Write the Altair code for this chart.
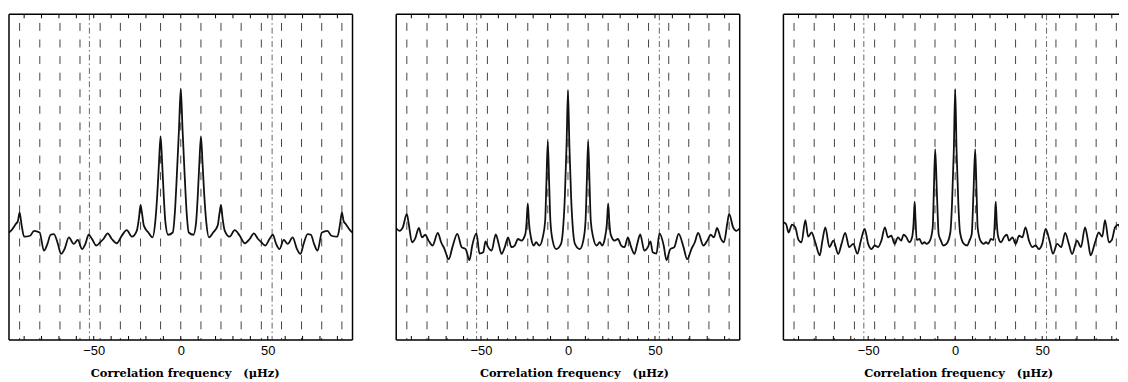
import altair as alt
import pandas as pd

# ---- panel 1 ----
freq_1 = [-98.7, -97.6, -94.8, -93.6, -92.6, -91.5, -90.0, -86.6, -84.3, -81.1, -78.6, -76.6, -74.8, -72.9,
          -70.6, -68.8, -66.8, -64.3, -61.5, -59.2, -56.7, -54.8, -52.9, -51.0, -48.5, -46.3, -44.4, -42.0,
          -39.6, -36.8, -33.9, -31.0, -28.1, -25.3, -24.0, -23.1, -22.3, -21.2, -18.6, -16.2, -14.7, -13.5,
          -12.5, -11.6, -10.7, -9.8, -8.8, -7.3, -4.6, -3.4, -2.3, -1.0,
          0.0, 1.0, 2.3, 3.4, 4.6, 7.3, 8.8, 9.8, 10.7, 11.6, 12.5, 13.5, 14.7, 16.2, 18.6, 21.2, 22.3, 23.1,
          24.0, 25.3, 28.1, 31.0, 33.9, 36.8, 39.6, 42.0, 44.4, 46.3, 48.5, 51.0, 52.9, 54.8, 56.7, 59.2,
          61.5, 64.3, 66.8, 68.8, 70.6, 72.9, 74.8, 76.6, 78.6, 81.1, 84.3, 86.6, 90.0, 91.5, 92.6, 93.6,
          94.8, 97.6, 98.7]
corr_1 = [33.0, 33.5, 35.6, 36.5, 39.1, 35.5, 31.7, 32.0, 33.5, 33.0, 27.4, 29.5, 32.3, 32.5,
          29.5, 26.4, 27.9, 31.5, 29.5, 30.7, 27.9, 29.5, 32.3, 31.0, 29.0, 30.0, 31.0, 32.7,
          31.0, 29.7, 32.0, 33.7, 31.7, 33.5, 37.5, 41.5, 39.0, 35.1, 33.0, 31.5, 36.0, 44.5,
          54.5, 62.5, 54.5, 44.5, 36.0, 32.3, 33.0, 39.0, 50.0, 65.0,
          77.2, 65.0, 50.0, 39.0, 33.0, 32.3, 36.0, 44.5, 54.5, 62.5, 54.5, 44.5, 36.0, 31.5, 33.0, 35.1, 39.0, 41.5,
          37.5, 33.5, 31.7, 33.7, 32.0, 29.7, 31.0, 32.7, 31.0, 30.0, 29.0, 31.0, 32.3, 29.5, 27.9, 30.7,
          29.5, 31.5, 27.9, 26.4, 29.5, 32.5, 32.3, 29.5, 27.4, 33.0, 33.5, 32.0, 31.7, 35.5, 39.1, 36.5,
          35.6, 33.5, 33.0]

# ---- panel 2 ----
freq_2 = [-98.7, -96.8, -94.9, -92.6, -91.5, -89.6, -87.7, -85.7, -83.9, -82.0, -80.1, -77.8, -74.8, -72.9,
          -71.0, -68.5, -66.4, -63.6, -61.1, -58.8, -56.6, -55.0, -52.6, -50.8, -48.7, -47.4, -45.9, -43.9,
          -41.5, -39.8, -38.2, -36.3, -34.4, -32.5, -30.6, -28.7, -26.8, -24.5, -23.8, -23.1, -22.4, -21.1,
          -19.6, -18.3, -16.4, -14.5, -13.1, -12.4, -11.6, -10.8, -10.1, -8.8, -6.8, -4.0, -3.0, -1.8, -0.8,
          0.0, 0.8, 1.8, 3.0, 4.0, 6.8, 8.8, 10.1, 10.8, 11.6, 12.4, 13.1, 14.5, 16.4, 18.3, 19.6, 21.1, 22.4,
          23.1, 23.8, 24.5, 26.8, 28.7, 30.6, 32.5, 34.4, 36.3, 38.2, 39.8, 41.5, 43.9, 45.9, 47.4, 48.7,
          50.8, 52.6, 55.0, 56.6, 58.8, 61.1, 63.6, 66.4, 68.5, 71.0, 72.9, 74.8, 77.8, 80.1, 82.0, 83.9,
          85.7, 87.7, 89.6, 91.5, 92.6, 94.9, 96.8, 98.7]
corr_2 = [34.3, 33.5, 34.6, 38.7, 35.6, 30.0, 31.3, 34.4, 31.5, 32.3, 30.5, 29.0, 32.9, 30.0,
          28.0, 24.8, 28.5, 32.6, 28.5, 27.9, 24.5, 29.0, 32.7, 26.5, 26.9, 30.3, 28.5, 27.4,
          32.4, 29.5, 26.4, 28.5, 31.5, 28.5, 29.0, 31.0, 30.5, 32.5, 36.0, 41.9, 36.0, 31.0,
          29.0, 30.0, 29.0, 31.5, 36.6, 48.0, 61.0, 48.0, 36.6, 30.5, 27.9, 29.5, 33.0, 44.0, 60.0,
          76.5, 60.0, 44.0, 33.0, 29.5, 27.9, 30.5, 36.6, 48.0, 61.0, 48.0, 36.6, 31.5, 29.0, 30.0, 29.0, 31.0, 36.0,
          41.9, 36.0, 32.5, 30.5, 31.0, 29.0, 28.5, 31.5, 28.5, 26.4, 29.5, 32.4, 27.4, 28.5, 30.3, 26.9,
          26.5, 32.7, 29.0, 24.5, 27.9, 28.5, 32.6, 28.5, 24.8, 28.0, 30.0, 32.9, 29.0, 30.5, 32.3, 31.5,
          34.4, 31.3, 30.0, 35.6, 38.7, 34.6, 33.5, 34.3]

# ---- panel 3 ----
freq_3 = [-98.7, -97.2, -95.7, -93.8, -91.9, -90.0, -88.3, -86.1, -84.5, -82.5, -80.4, -77.8, -76.3, -74.6,
          -72.3, -70.0, -67.2, -65.3, -63.2, -60.9, -58.6, -56.2, -54.2, -52.0, -50.0, -48.1, -46.2, -44.3,
          -42.4, -40.4, -38.6, -36.7, -34.8, -32.9, -31.0, -29.7, -28.2, -26.3, -24.7, -23.9, -23.3, -22.8,
          -22.1, -20.5, -19.0, -17.7, -16.4, -14.5, -12.9, -12.3, -11.5, -10.5, -9.5, -8.2, -6.9, -5.0, -2.8,
          -1.8, -0.8,
          0.0, 0.8, 1.8, 2.8, 5.0, 6.9, 8.2, 9.5, 10.5, 11.5, 12.3, 12.9, 14.5, 16.4, 17.7, 19.0, 20.5, 22.1,
          22.8, 23.3, 23.9, 24.7, 26.3, 28.2, 29.7, 31.0, 32.9, 34.8, 36.7, 38.6, 40.4, 42.4, 44.3, 46.2,
          48.1, 50.0, 52.0, 54.2, 56.2, 58.6, 60.9, 63.2, 65.3, 67.2, 70.0, 72.3, 74.6, 76.3, 77.8, 80.4,
          82.5, 84.5, 86.1, 88.3, 90.0, 91.9, 93.8, 95.7, 97.2, 98.7]
corr_3 = [36.1, 35.6, 33.0, 35.4, 34.6, 30.7, 30.0, 36.8, 31.7, 33.0, 30.0, 26.0, 30.5, 34.6,
          28.5, 30.5, 26.4, 29.5, 32.9, 28.5, 29.5, 26.5, 30.5, 34.1, 29.5, 27.9, 29.0, 28.5,
          30.5, 34.6, 31.5, 32.0, 29.5, 31.5, 30.5, 32.3, 31.7, 30.0, 31.7, 36.0, 42.5, 37.0,
          30.7, 31.0, 29.5, 30.0, 29.5, 30.5, 34.6, 45.0, 58.6, 45.0, 32.5, 30.5, 29.0, 29.5, 33.0,
          42.0, 58.0,
          77.0, 58.0, 42.0, 33.0, 29.5, 29.0, 30.5, 32.5, 45.0, 58.6, 45.0, 34.6, 30.5, 29.5, 30.0, 29.5, 31.0, 30.7,
          37.0, 42.5, 36.0, 31.7, 30.0, 31.7, 32.3, 30.5, 31.5, 29.5, 32.0, 31.5, 34.6, 30.5, 28.5, 29.0,
          27.9, 29.5, 34.1, 30.5, 26.5, 29.5, 28.5, 32.9, 29.5, 26.4, 30.5, 28.5, 34.6, 30.5, 26.0, 30.0,
          33.0, 31.7, 36.8, 30.0, 30.7, 34.6, 35.4, 33.0, 35.6, 36.1]

# reference lines
rotation_lines = [-92.6, -81.0, -69.4, -57.9, -46.3, -34.7, -23.1, -11.6, 0.0,
                  11.6, 23.1, 34.7, 46.3, 57.9, 69.4, 81.0, 92.6]
marker_lines = [-52.5, 52.5]
minor_ticks = [-90, -80, -70, -60, -50, -40, -30, -20, -10, 0, 10, 20, 30, 40, 50, 60, 70, 80, 90]
tick_labels = [-50, 0, 50]
x_title = "Correlation frequency \u00a0\u00a0(μHz)"

H = 328
X_LO = -98.7
PX_PER_UNIT = 346 / 197.4


def panel(freq, corr, width, title_x, right_edge=True):
    x_hi = X_LO + width / PX_PER_UNIT
    xs = alt.Scale(domain=[X_LO, x_hi], nice=False, zero=False)
    axis = alt.Axis(values=tick_labels, title=x_title, ticks=False, domain=False, grid=False,
                    labelFont="Liberation Sans", labelFontSize=13, labelColor="black", labelPadding=5,
                    titleFont="DejaVu Serif", titleFontSize=11.5, titleFontWeight="bold", titleColor="black",
                    titleX=title_x, titleY=37, titleAlign="center", titleBaseline="alphabetic")

    def X():
        return alt.X("f:Q", scale=xs, axis=axis)

    line_df = pd.DataFrame({"f": freq, "c": corr})
    dash_df = pd.DataFrame({"f": rotation_lines})
    dd_df = pd.DataFrame({"f": marker_lines})
    tick_df = pd.DataFrame({"f": minor_ticks})
    frame_df = pd.DataFrame({"k": [0]})

    dashed = alt.Chart(dash_df).mark_rule(color="#444444", strokeWidth=1, strokeDash=[8, 8.7],
                                          strokeDashOffset=8).encode(x=X())
    dashdot = alt.Chart(dd_df).mark_rule(color="#666666", strokeWidth=1,
                                         strokeDash=[6, 3, 1.5, 3]).encode(x=X())
    ticks_b = alt.Chart(tick_df).mark_rule(color="black", strokeWidth=1).encode(
        x=X(), y=alt.value(H - 4), y2=alt.value(H))
    ticks_t = alt.Chart(tick_df).mark_rule(color="black", strokeWidth=1).encode(
        x=X(), y=alt.value(0), y2=alt.value(4))
    line = alt.Chart(line_df).mark_line(color="#111111", strokeWidth=1.8, clip=True,
                                        interpolate="monotone").encode(
        x=X(),
        y=alt.Y("c:Q", scale=alt.Scale(domain=[0, 100], nice=False, zero=False), axis=None))
    top = alt.Chart(frame_df).mark_rule(color="black", strokeWidth=1.5).encode(
        x=alt.value(0), x2=alt.value(width), y=alt.value(0))
    bottom = alt.Chart(frame_df).mark_rule(color="black", strokeWidth=1.5).encode(
        x=alt.value(0), x2=alt.value(width), y=alt.value(H))
    left = alt.Chart(frame_df).mark_rule(color="black", strokeWidth=1.5).encode(
        x=alt.value(0), y=alt.value(0), y2=alt.value(H))
    layers = [dashed, dashdot, ticks_b, ticks_t, line, top, bottom, left]
    if right_edge:
        right = alt.Chart(frame_df).mark_rule(color="black", strokeWidth=1.5).encode(
            x=alt.value(width), y=alt.value(0), y2=alt.value(H))
        layers.append(right)
    return alt.layer(*layers).properties(width=width, height=H)


p1 = panel(freq_1, corr_1, 346, 177)
p2 = panel(freq_2, corr_2, 346, 179)
p3 = panel(freq_3, corr_3, 338, 176, right_edge=False)

chart = alt.hconcat(p1, p2, p3, spacing=44, bounds="flush").properties(
    padding={"left": 0, "top": 4, "right": 0, "bottom": 0}
).configure_view(strokeWidth=0)

chart.save("out.html", embed_options={"renderer": "svg", "actions": False})
